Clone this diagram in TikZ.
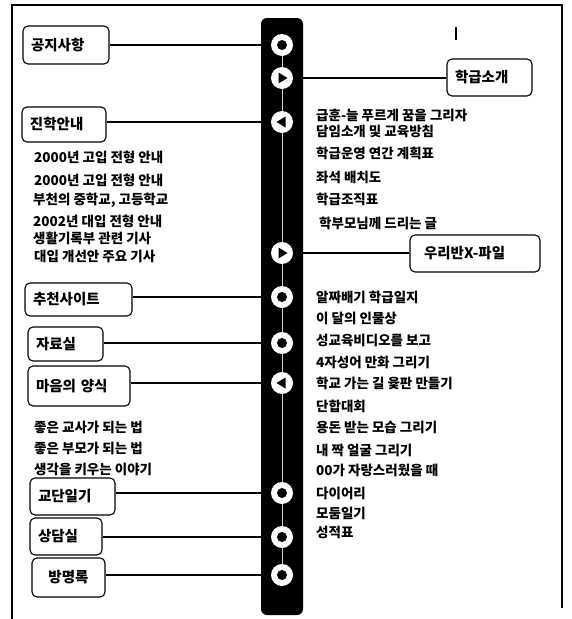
\documentclass[tikz,border=0pt]{standalone}
\usepackage{fontspec}
\setmainfont{Noto Sans CJK KR}
\tikzset{
  frameline/.style={line width=1.1pt},
  mbox/.style={draw, line width=1.1pt, rounded corners=5pt, align=left, inner xsep=8pt, inner ysep=0pt, font=\bfseries\fontsize{14.5}{16}\selectfont},
  conn/.style={line width=1.1pt},
  ring/.style={circle, fill=white, minimum size=22pt, inner sep=0pt},
  txt/.style={anchor=west, inner sep=0pt, font=\bfseries\fontsize{13.5}{15}\selectfont},
  linkline/.style={draw=gray!40!white, line width=0.6pt}
}
\begin{document}
\begin{tikzpicture}[x=1pt,y=-1pt]
\useasboundingbox (0,0) rectangle (571,619);
% frame
\draw[frameline] (12,619) -- (12,5) -- (562,5) -- (562,608);
\draw[line width=2pt] (456,27) -- (456,40);
% bar
\node[fill=black, rounded corners=6pt, minimum width=42pt, minimum height=597pt, inner sep=0pt] (bar) at (282,316.5) {};
% circles
\coordinate (p1) at (282,45);
\coordinate (p10) at (282,575);
\draw[linkline] (p1) -- (p10);
\node[ring] (c1) at (282,45) {};
\node[ring] (c2) at (282,78) {};
\node[ring] (c3) at (282,122) {};
\node[ring] (c4) at (282,253) {};
\node[ring] (c5) at (282,297) {};
\node[ring] (c6) at (282,343) {};
\node[ring] (c7) at (282,383) {};
\node[ring] (c8) at (282,493) {};
\node[ring] (c9) at (282,537) {};
\node[ring] (c10) at (282,575) {};
\foreach \c in {c1,c5,c6,c8,c9,c10} \fill (\c) circle (5pt);
\foreach \c in {c2,c4} \fill[shift={(\c)}] (-3.5,-5.5) -- (5.5,0) -- (-3.5,5.5) -- cycle;
\foreach \c in {c3,c7} \fill[shift={(\c)}] (3.5,-5.5) -- (-5.5,0) -- (3.5,5.5) -- cycle;
% boxes
\node[mbox, text width=70pt, minimum height=38pt] (gongji) at (66,45) {공지사항};
\node[mbox, text width=69pt, minimum height=37pt] (hakgeup) at (489.5,77.5) {학급소개};
\node[mbox, text width=68pt, minimum height=35pt] (jinhak) at (64,124.5) {진학안내};
\node[mbox, text width=114pt, minimum height=37pt] (xfile) at (475,253.5) {\hspace*{6pt}우리반X-파일};
\node[mbox, text width=91pt, minimum height=33pt] (chucheon) at (78.5,299.5) {추천사이트};
\node[mbox, text width=59pt, minimum height=34pt] (jaryo) at (65.5,344) {자료실};
\node[mbox, text width=86pt, minimum height=40pt] (maeum) at (79,386) {마음의 양식};
\node[mbox, text width=69pt, minimum height=37pt] (gyodan) at (72.5,496.5) {교단일기};
\node[mbox, text width=56pt, minimum height=37pt] (sangdam) at (66,536.5) {상담실};
\node[mbox, text width=57pt, minimum height=39pt, align=center] (bangmyeong) at (68.5,577.5) {방명록};
% connectors
\draw[conn] (gongji.east |- c1) -- (c1.west);
\draw[conn] (c2.east) -- (hakgeup.west |- c2);
\draw[conn] (jinhak.east |- c3) -- (c3.west);
\draw[conn] (c4.east) -- (xfile.west |- c4);
\draw[conn] (chucheon.east |- c5) -- (c5.west);
\draw[conn] (jaryo.east |- c6) -- (c6.west);
\draw[conn] (maeum.east |- c7) -- (c7.west);
\draw[conn] (gyodan.east |- c8) -- (c8.west);
\draw[conn] (sangdam.east |- c9) -- (c9.west);
\draw[conn] (bangmyeong.east |- c10) -- (c10.west);
% left texts
\node[txt] (l1) at (34,157) {2000년 고입 전형 안내};
\node[txt] (l2) at (34,180) {2000년 고입 전형 안내};
\node[txt] (l3) at (33,200) {부천의 중학교, 고등학교};
\node[txt] (l4) at (33,221) {2002년 대입 전형 안내};
\node[txt] (l5) at (33,238) {생활기록부 관련 기사};
\node[txt] (l6) at (34,256) {대입 개선안 주요 기사};
\node[txt] (l7) at (34,427) {좋은 교사가 되는 법};
\node[txt] (l8) at (34,448) {좋은 부모가 되는 법};
\node[txt] (l9) at (34,469) {생각을 키우는 이야기};
% right texts
\node[txt] (r1) at (316,115) {급훈-늘 푸르게 꿈을 그리자};
\node[txt] (r2) at (316,131) {담임소개 및 교육방침};
\node[txt] (r3) at (316,153) {학급운영 연간 계획표};
\node[txt] (r4) at (316,177) {좌석 배치도};
\node[txt] (r5) at (316,199) {학급조직표};
\node[txt] (r6) at (319,223) {학부모님께 드리는 글};
\node[txt] (r7) at (316,297) {알짜배기 학급일지};
\node[txt] (r8) at (316,318) {이 달의 인물상};
\node[txt] (r9) at (316,340) {성교육비디오를 보고};
\node[txt] (r10) at (316,362) {4자성어 만화 그리기};
\node[txt] (r11) at (316,383) {학교 가는 길 윷판 만들기};
\node[txt] (r12) at (316,406) {단합대회};
\node[txt] (r13) at (316,427) {용돈 받는 모습 그리기};
\node[txt] (r14) at (316,450) {내 짝 얼굴 그리기};
\node[txt] (r15) at (316,470) {00가 자랑스러웠을 때};
\node[txt] (r16) at (316,493) {다이어리};
\node[txt] (r17) at (316,513) {모둠일기};
\node[txt] (r18) at (316,532) {성적표};
\end{tikzpicture}
\end{document}
